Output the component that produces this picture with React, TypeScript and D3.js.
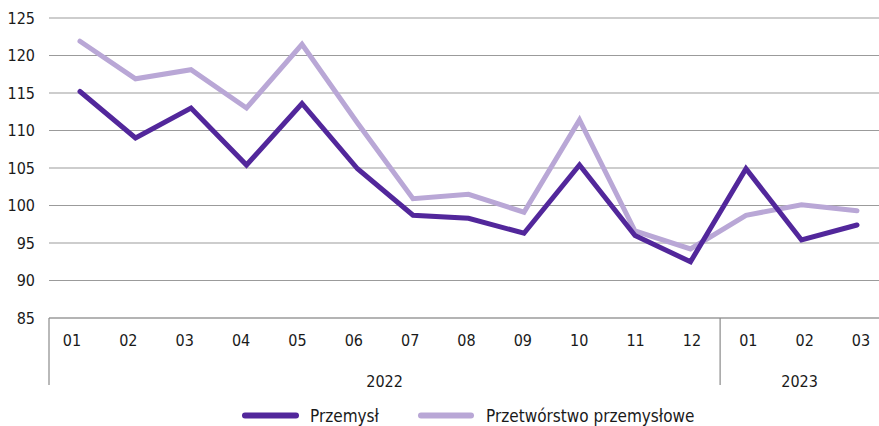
import React from "react";
import * as d3 from "d3";

const months = ["01", "02", "03", "04", "05", "06", "07", "08", "09", "10", "11", "12", "01", "02", "03"];
const years = ["2022", "2023"];
const yearCounts = [12, 3];
const przemysl = [115.2, 109.0, 113.0, 105.4, 113.6, 104.9, 98.7, 98.3, 96.3, 105.4, 96.0, 92.5, 104.9, 95.4, 97.4];
const przetworstwo = [121.9, 116.9, 118.1, 113.0, 121.5, 111.0, 100.9, 101.5, 99.1, 111.4, 96.6, 94.2, 98.7, 100.1, 99.3];
const yTicks = [85, 90, 95, 100, 105, 110, 115, 120, 125];
const seriesNames = ["Przemysł", "Przetwórstwo przemysłowe"];
const colors = ["#52279b", "#b9a7d6"];

const W = 879;
const H = 426;
const FONT = "'Liberation Sans Narrow', 'DejaVu Sans Condensed', 'Noto Sans', sans-serif";

export default function App() {
  const idx = months.map((_, i) => i);
  const x = d3.scalePoint<number>().domain(idx).range([80, 857]);
  const xl = d3.scalePoint<number>().domain(idx).range([72, 861]);
  const y = d3.scaleLinear().domain([85, 125]).range([318, 18]);
  const axisLeft = 49;
  const line = d3
    .line<number>()
    .x((_, i) => x(i) as number)
    .y((d) => y(d));

  const bounds: number[] = [axisLeft];
  let acc = 0;
  yearCounts.forEach((c) => {
    acc += c;
    if (acc < months.length) {
      bounds.push(((xl(acc - 1) as number) + (xl(acc) as number)) / 2);
    } else {
      bounds.push(W);
    }
  });

  const legY = 415.5;

  return (
    <svg
      width={W}
      height={H}
      style={{ position: "absolute", left: 0, top: 0, fontFamily: FONT }}
    >
      {yTicks.map((t) => (
        <g key={t}>
          {t !== 85 && (
            <line x1={axisLeft} x2={W} y1={y(t)} y2={y(t)} stroke="#9b9b9b" strokeWidth={1.2} />
          )}
          <text x={35} y={y(t)} textAnchor="end" dominantBaseline="central" fontSize={16} fill="#1a1a1a">
            {t}
          </text>
        </g>
      ))}
      <line x1={axisLeft} x2={W} y1={y(85)} y2={y(85)} stroke="#9b9b9b" strokeWidth={1.5} />
      {bounds.slice(0, -1).map((b, i) => (
        <line key={i} x1={b} x2={b} y1={y(85)} y2={385} stroke="#8a8a8a" strokeWidth={1.2} />
      ))}
      {months.map((m, i) => (
        <text key={i} x={xl(i)} y={340.5} textAnchor="middle" dominantBaseline="central" fontSize={16} fill="#1a1a1a">
          {m}
        </text>
      ))}
      {years.map((yr, i) => (
        <text
          key={yr}
          x={(bounds[i] + bounds[i + 1]) / 2}
          y={381.5}
          textAnchor="middle"
          dominantBaseline="central"
          fontSize={16}
          fill="#1a1a1a"
        >
          {yr}
        </text>
      ))}
      <path d={line(przetworstwo) || ""} fill="none" stroke={colors[1]} strokeWidth={5} strokeLinejoin="miter" strokeLinecap="round" />
      <path d={line(przemysl) || ""} fill="none" stroke={colors[0]} strokeWidth={5} strokeLinejoin="miter" strokeLinecap="round" />
      <line x1={245} x2={296} y1={legY} y2={legY} stroke={colors[0]} strokeWidth={6} strokeLinecap="round" />
      <text x={310} y={legY} dominantBaseline="central" fontSize={17} fill="#1a1a1a">
        {seriesNames[0]}
      </text>
      <line x1={421} x2={471} y1={legY} y2={legY} stroke={colors[1]} strokeWidth={6} strokeLinecap="round" />
      <text x={486} y={legY} dominantBaseline="central" fontSize={17} fill="#1a1a1a">
        {seriesNames[1]}
      </text>
    </svg>
  );
}
